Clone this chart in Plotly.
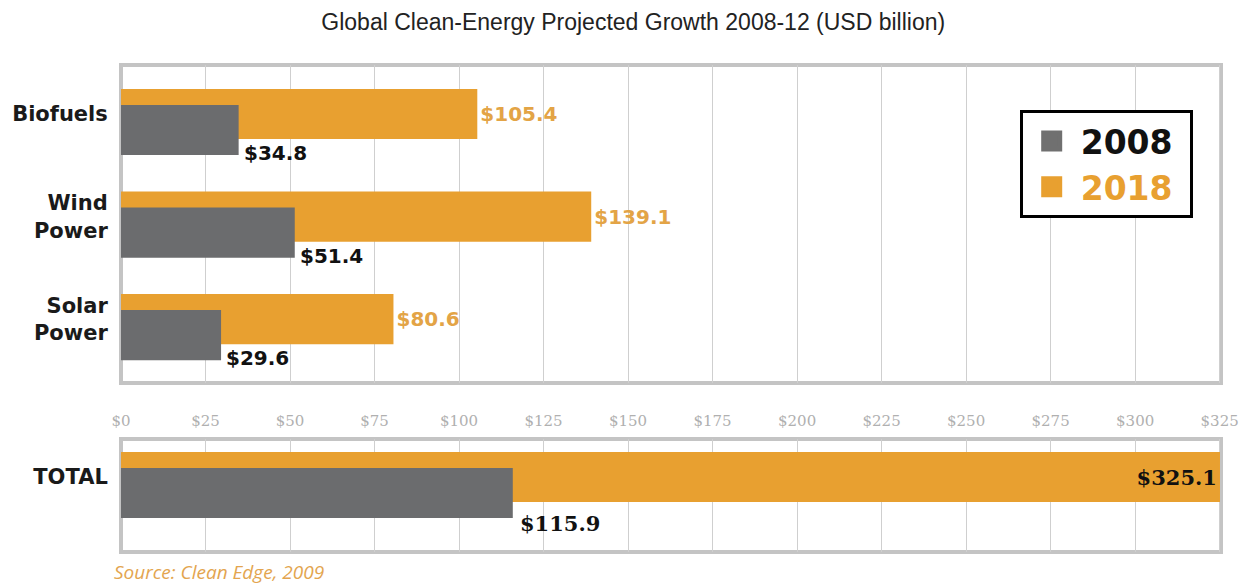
import plotly.graph_objects as go

# Clean-energy market size, USD billion
categories = ["Biofuels", "Wind<br>Power", "Solar<br>Power"]
values_2008 = [34.8, 51.4, 29.6]
values_2018 = [105.4, 139.1, 80.6]
total_label = ["TOTAL"]
total_2008 = [115.9]
total_2018 = [325.1]
tick_values = list(range(0, 326, 25))
tick_labels = [f"${v}" for v in tick_values]

GRAY = "#6b6c6e"
ORANGE = "#e8a030"
ORANGE_TEXT = "#e3a446"
FRAME = "#c4c4c4"
GRID = "#cfcfcf"

BAR_W = 0.49
OFF_2018 = -0.245
OFF_2008 = -0.089

fig = go.Figure()

# top panel: individual sectors
fig.add_trace(go.Bar(
    x=values_2018, y=categories, orientation="h", name="2018",
    width=BAR_W, offset=OFF_2018, marker=dict(color=ORANGE, line_width=0),
    text=[f"${v}" for v in values_2018], textposition="outside",
    textfont=dict(family="DejaVu Sans", size=20, color=ORANGE_TEXT, weight="bold"),
    cliponaxis=False, showlegend=False, xaxis="x", yaxis="y",
))
fig.add_trace(go.Bar(
    x=values_2008, y=categories, orientation="h", name="2008",
    width=BAR_W, offset=OFF_2008, marker=dict(color=GRAY, line_width=0),
    showlegend=False, xaxis="x", yaxis="y",
))

# bottom panel: total
fig.add_trace(go.Bar(
    x=total_2018, y=total_label, orientation="h", name="2018",
    width=BAR_W, offset=OFF_2018, marker=dict(color=ORANGE, line_width=0),
    text=[f"${v}" for v in total_2018], textposition="inside",
    insidetextanchor="end", textangle=0,
    insidetextfont=dict(family="DejaVu Serif", size=21, color="#111111", weight="bold"),
    cliponaxis=False, showlegend=False, xaxis="x2", yaxis="y2",
))
fig.add_trace(go.Bar(
    x=total_2008, y=total_label, orientation="h", name="2008",
    width=BAR_W, offset=OFF_2008, marker=dict(color=GRAY, line_width=0),
    showlegend=False, xaxis="x2", yaxis="y2",
))

# legend entries
fig.add_trace(go.Scatter(
    x=[None], y=[None], mode="markers", name="2008\u00a0",
    marker=dict(symbol="square", size=26, color="#707070",
                line=dict(color="#707070", width=5)),
    xaxis="x", yaxis="y",
))
fig.add_trace(go.Scatter(
    x=[None], y=[None], mode="markers",
    name=f'<span style="color:{ORANGE}">2018</span>\u00a0',
    marker=dict(symbol="square", size=26, color=ORANGE,
                line=dict(color=ORANGE, width=5)),
    xaxis="x", yaxis="y",
))

# labels for 2008 bars, set below the bar end
annotations = []
for cat, v in zip(categories, values_2008):
    annotations.append(dict(
        x=v, y=cat, xref="x", yref="y", text=f"${v}", showarrow=False,
        xanchor="left", yanchor="middle", xshift=3, yshift=-39,
        font=dict(family="DejaVu Sans", size=20, color="#111111", weight="bold"),
    ))
for cat, v in zip(total_label, total_2008):
    annotations.append(dict(
        x=v, y=cat, xref="x2", yref="y2", text=f"${v}", showarrow=False,
        xanchor="left", yanchor="middle", xshift=5, yshift=-46,
        font=dict(family="DejaVu Serif", size=21, color="#111111", weight="bold"),
    ))
annotations.append(dict(
    x=-0.008, y=1 - (572 - 65) / 487, xref="paper", yref="paper",
    text="Source: Clean Edge, 2009",
    showarrow=False, xanchor="left", yanchor="middle",
    font=dict(family="Open Sans", size=19, color="#e3a54f", style="italic"),
))

frame = dict(type="rect", x0=0, x1=1, y0=0, y1=1,
             line=dict(color=FRAME, width=4), layer="below")
shapes = [
    dict(frame, xref="x domain", yref="y domain"),
    dict(frame, xref="x2 domain", yref="y2 domain"),
]

cat_font = dict(family="DejaVu Sans", size=21, color="#1a1a1a", weight="bold")
xcommon = dict(range=[0, 325.4], tickvals=tick_values, ticktext=tick_labels,
               showgrid=True, gridcolor=GRID, gridwidth=1, zeroline=False,
               showline=False, fixedrange=True)

fig.update_layout(
    width=1254, height=587,
    margin=dict(l=121, r=33, t=65, b=35),
    paper_bgcolor="white", plot_bgcolor="white",
    barmode="overlay",
    title=dict(text="Global Clean-Energy Projected Growth 2008-12 (USD billion)",
               x=0.505, xref="container", xanchor="center",
               y=1 - 22 / 587, yref="container", yanchor="middle",
               font=dict(family="Liberation Sans", size=23, color="#222222")),
    xaxis=dict(xcommon, anchor="y", showticklabels=False, ticks=""),
    xaxis2=dict(xcommon, anchor="y2", matches="x", side="top",
                showticklabels=True, ticks="outside", ticklen=6,
                tickcolor="rgba(0,0,0,0)",
                tickfont=dict(family="DejaVu Serif", size=15, color="#b0b0b0")),
    yaxis=dict(domain=[0.347, 1], type="category", categoryarray=categories,
               range=[2.624, -0.478], showgrid=False, zeroline=False,
               ticks="outside", ticklen=8, tickcolor="rgba(0,0,0,0)",
               tickfont=cat_font, fixedrange=True),
    yaxis2=dict(domain=[0, 0.232], type="category", categoryarray=total_label,
                range=[0.732, -0.371], showgrid=False, zeroline=False,
                ticks="outside", ticklen=8, tickcolor="rgba(0,0,0,0)",
                tickfont=cat_font, fixedrange=True),
    legend=dict(x=0.817, y=1 - (110 - 65) / 487, xanchor="left", yanchor="top",
                bgcolor="white", bordercolor="black", borderwidth=3,
                font=dict(family="DejaVu Sans", size=33, color="#111111", weight="bold"),
                itemsizing="trace", itemwidth=48, tracegroupgap=0),
    annotations=annotations,
    shapes=shapes,
)

fig.write_html("out.html")
